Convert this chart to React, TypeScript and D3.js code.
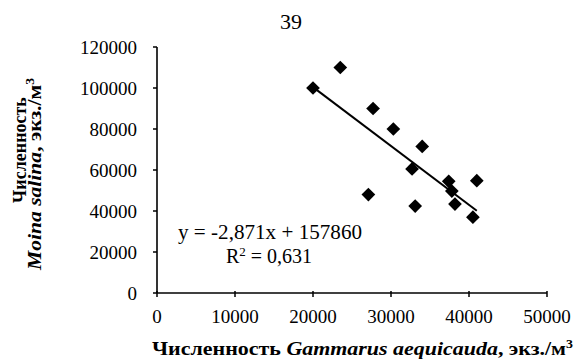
import React from 'react';
import * as d3 from 'd3';

// Численность Gammarus aequicauda (x) vs Moina salina (y), экз./м3
const gammarus = [20000, 23500, 27700, 30300, 34000, 32700, 27100, 33100, 37400, 37800, 38200, 41000, 40500];
const moina = [100000, 110000, 90000, 80000, 71500, 60500, 48000, 42400, 54500, 49700, 43400, 54800, 37000];
const xTicks = [0, 10000, 20000, 30000, 40000, 50000];
const yTicks = [0, 20000, 40000, 60000, 80000, 100000, 120000];
const slope = -2.871;
const intercept = 157860;

const W = 577;
const H = 359;
const margin = { top: 47, right: 30, bottom: 66, left: 157 };
const font = '"Liberation Serif", "Times New Roman", serif';

const App = () => {
  const x = d3.scaleLinear().domain([0, 50000]).range([margin.left, W - margin.right]);
  const y = d3.scaleLinear().domain([0, 120000]).range([H - margin.bottom, margin.top]);
  const diamond = d3.symbol().type(d3.symbolDiamond2).size(120);
  const xs = d3.extent(gammarus) as [number, number];
  const trend = d3.line<number>().x(d => x(d)).y(d => y(slope * d + intercept));

  const x0 = x(0);
  const y0 = y(0);

  return (
    <svg width={W} height={H} fontFamily={font} style={{ position: 'absolute', left: 0, top: 0 }}>
      <rect width={W} height={H} fill="#fff" />
      <text x={291} y={29} fontSize={22} textAnchor="middle">39</text>

      {/* axes */}
      <line x1={x0} x2={x0} y1={y(120000)} y2={y0} stroke="#000" strokeWidth={1.6} />
      <line x1={x0} x2={x(50000)} y1={y0} y2={y0} stroke="#000" strokeWidth={1.6} />
      {yTicks.map(t => (
        <g key={t} transform={`translate(${x0},${y(t)})`}>
          <line x1={-4} x2={0} stroke="#000" strokeWidth={1.5} />
          <text x={-20} dy="0.35em" fontSize={19} textAnchor="end">{t}</text>
        </g>
      ))}
      {xTicks.map(t => (
        <g key={t} transform={`translate(${x(t)},${y0})`}>
          <line y1={-2} y2={4} stroke="#000" strokeWidth={1.5} />
          <text y={30} fontSize={19} textAnchor="middle">{t}</text>
        </g>
      ))}

      {/* trend line */}
      <path d={trend(xs) ?? ''} fill="none" stroke="#000" strokeWidth={2} />

      {/* points */}
      {gammarus.map((g, i) => (
        <path key={i} d={diamond() ?? ''} transform={`translate(${x(g)},${y(moina[i])})`} fill="#000" />
      ))}

      {/* equation */}
      <text x={178} y={239} fontSize={20} textLength={184} lengthAdjust="spacingAndGlyphs">y = -2,871x + 157860</text>
      <text x={226} y={263} fontSize={20}>
        R<tspan dy={-7} fontSize={13}>2</tspan><tspan dy={7}> = 0,631</tspan>
      </text>

      {/* x title */}
      <text x={152} y={355} fontSize={19} fontWeight="bold" textLength={421} lengthAdjust="spacingAndGlyphs">
        Численность <tspan fontStyle="italic">Gammarus aequicauda</tspan>, экз./м
        <tspan dy={-7} fontSize={12}>3</tspan>
      </text>

      {/* y title */}
      <text transform="translate(26,150) rotate(-90)" fontSize={18} fontWeight="bold" textAnchor="middle">
        Численность
      </text>
      <text transform="translate(41,270) rotate(-90)" fontSize={19} fontWeight="bold" textLength={192} lengthAdjust="spacingAndGlyphs">
        <tspan fontStyle="italic">Moina salina</tspan>, экз./м<tspan dy={-7} fontSize={12}>3</tspan>
      </text>
    </svg>
  );
};

export default App;
